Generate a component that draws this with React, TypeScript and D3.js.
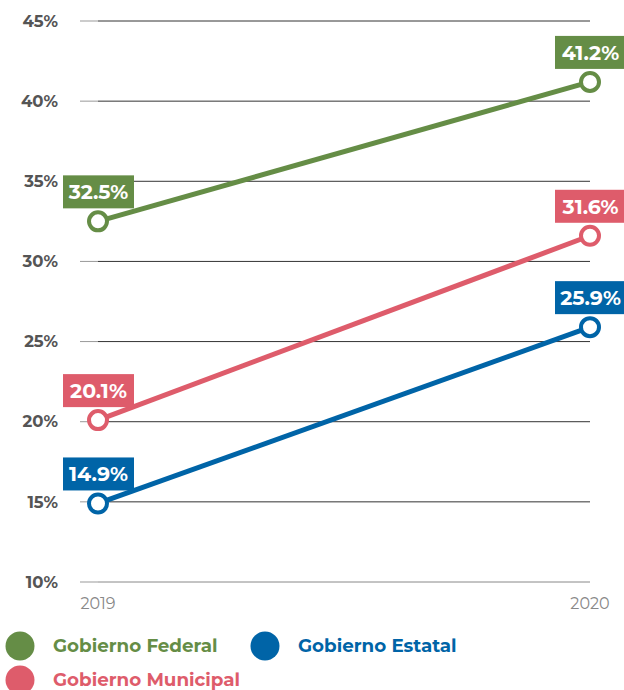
import React from "react";
import * as d3 from "d3";

const years = ["2019", "2020"];
const federal = [32.5, 41.2];
const municipal = [20.1, 31.6];
const estatal = [14.9, 25.9];
const yTicks = [10, 15, 20, 25, 30, 35, 40, 45];

const series = [
  { name: "Gobierno Federal", values: federal, color: "#658d46" },
  { name: "Gobierno Municipal", values: municipal, color: "#de5c6b" },
  { name: "Gobierno Estatal", values: estatal, color: "#0064a7" },
];

const legendItems = [
  { name: "Gobierno Federal", color: "#658d46", x: 20, y: 646 },
  { name: "Gobierno Estatal", color: "#0064a7", x: 265, y: 646 },
  { name: "Gobierno Municipal", color: "#de5c6b", x: 20, y: 680 },
];

const W = 624;
const H = 690;
const FONT = "Montserrat, 'Open Sans', Lato, sans-serif";

export default function App() {
  const x = d3.scalePoint<string>().domain(years).range([98, 590]);
  const y = d3.scaleLinear().domain([10, 45]).range([582, 21]);
  const line = d3
    .line<number>()
    .x((_, i) => x(years[i]) as number)
    .y((d) => y(d));

  return (
    <svg
      width={W}
      height={H}
      style={{ position: "absolute", left: 0, top: 0, fontFamily: FONT }}
    >
      <rect width={W} height={H} fill="#fff" />
      {yTicks.map((t) => (
        <g key={t}>
          <line x1={98} x2={590} y1={y(t)} y2={y(t)} stroke={t === 10 ? "#888" : "#333"} strokeWidth={1} />
          <line x1={80} x2={98} y1={y(t)} y2={y(t)} stroke="#999" strokeWidth={1} />
          <text
            x={58}
            y={y(t)}
            dy="0.35em"
            textAnchor="end"
            fontSize={16.5}
            fontWeight={700}
            fill="#555"
          >
            {t}%
          </text>
        </g>
      ))}
      {years.map((yr) => (
        <text
          key={yr}
          x={x(yr)}
          y={609}
          textAnchor="middle"
          fontSize={16}
          fill="#888"
        >
          {yr}
        </text>
      ))}
      {series.map((s) => (
        <g key={s.name}>
          <path d={line(s.values) || ""} fill="none" stroke={s.color} strokeWidth={5} />
          {s.values.map((v, i) => {
            const cx = x(years[i]) as number;
            const cy = y(v);
            return (
              <g key={i}>
                <circle cx={cx} cy={cy} r={9} fill="#fff" stroke={s.color} strokeWidth={4} />
                <rect x={cx - 35} y={cy - 46} width={71} height={33} fill={s.color} />
                <text
                  x={cx + 0.5}
                  y={cy - 29.5}
                  dy="0.36em"
                  textAnchor="middle"
                  fontSize={20.5}
                  fontWeight={700}
                  fill="#fff"
                >
                  {v.toFixed(1)}%
                </text>
              </g>
            );
          })}
        </g>
      ))}
      {legendItems.map((l) => (
        <g key={l.name}>
          <circle cx={l.x} cy={l.y} r={14.5} fill={l.color} />
          <text
            x={l.x + 33}
            y={l.y}
            dy="0.35em"
            fontSize={18.3}
            fontWeight={700}
            fill={l.color}
          >
            {l.name}
          </text>
        </g>
      ))}
    </svg>
  );
}
